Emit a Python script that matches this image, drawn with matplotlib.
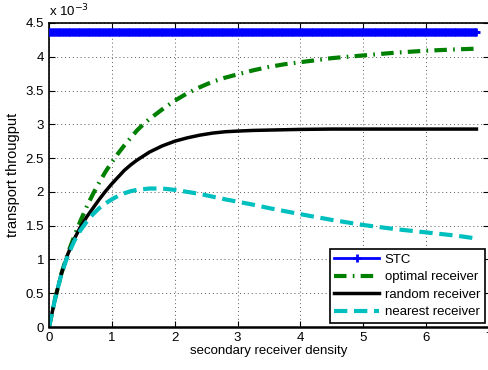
import matplotlib
matplotlib.use("Agg")
import matplotlib.pyplot as plt
import numpy as np

plt.rcParams['font.family'] = ['Liberation Sans', 'DejaVu Sans']

# secondary receiver density
density = [0, 0.1, 0.2, 0.3, 0.4, 0.5, 0.6, 0.7, 0.8, 0.9, 1.0, 1.1, 1.2, 1.3,
           1.4, 1.5, 1.6, 1.8, 2.0, 2.2, 2.4, 2.6, 2.8, 3.0, 3.25, 3.5, 3.75,
           4.0, 4.5, 5.0, 5.5, 6.0, 6.5, 6.8]
# transport throughput (x 1e-3)
optimal = [0, 0.43, 0.80, 1.09, 1.34, 1.57, 1.78, 1.97, 2.14, 2.30, 2.44, 2.57,
           2.69, 2.80, 2.91, 3.00, 3.08, 3.22, 3.35, 3.46, 3.55, 3.63, 3.69,
           3.74, 3.80, 3.85, 3.89, 3.92, 3.98, 4.02, 4.06, 4.09, 4.11, 4.12]
random_rx = [0, 0.43, 0.80, 1.08, 1.30, 1.48, 1.63, 1.76, 1.89, 2.01, 2.12, 2.22,
             2.32, 2.40, 2.47, 2.53, 2.59, 2.68, 2.75, 2.80, 2.84, 2.87, 2.89,
             2.90, 2.91, 2.915, 2.92, 2.925, 2.93, 2.93, 2.93, 2.93, 2.93, 2.93]
nearest = [0, 0.43, 0.79, 1.06, 1.27, 1.43, 1.56, 1.67, 1.76, 1.83, 1.89, 1.94,
           1.98, 2.01, 2.03, 2.04, 2.05, 2.05, 2.03, 2.00, 1.97, 1.93, 1.89,
           1.855, 1.81, 1.76, 1.715, 1.67, 1.585, 1.51, 1.45, 1.40, 1.35, 1.31]
stc_level = 4.37

stc_x = np.linspace(0, 6.8, 300)
stc_y = np.full_like(stc_x, stc_level)

fig = plt.figure(figsize=(4.89, 3.70), dpi=100)
ax = fig.add_axes([49 / 489, 1 - 327 / 370, 440 / 489, 304 / 370])

ax.plot(stc_x, stc_y, color=(0, 0, 1), lw=2, marker='+', ms=5.5, mew=2,
        label='STC', zorder=3)
ax.plot(density, optimal, color=(0, 0.5, 0), lw=3, ls=(0, (3, 1.5, 0.4, 1.5)),
        label='optimal receiver')
ax.plot(density, random_rx, color='black', lw=2.5, label='random receiver')
ax.plot(density, nearest, color=(0, 0.75, 0.75), lw=3, ls=(0, (3.2, 1.6)),
        label='nearest receiver')

ax.set_xlim(0, 7)
ax.set_ylim(0, 4.5)
ax.set_xticks(range(0, 8))
ax.set_yticks(np.arange(0, 4.51, 0.5))
ax.set_yticklabels(['0', '0.5', '1', '1.5', '2', '2.5', '3', '3.5', '4', '4.5'])
ax.tick_params(direction='in', top=True, right=True, labelsize=9.5, length=4)
ax.grid(True, ls=(0, (1, 3)), color='0.35', lw=0.7)
for s in ax.spines.values():
    s.set_linewidth(1.2)
ax.spines['bottom'].set_linewidth(1.8)

ax.set_xlabel('secondary receiver density', fontsize=9.5, labelpad=1)
ax.set_ylabel('transport througput', fontsize=10.5, labelpad=4)
ax.text(0, 1.012, r'x 10$^{-3}$', transform=ax.transAxes, fontsize=9.5,
        ha='left', va='bottom')

leg = ax.legend(loc='lower right', bbox_to_anchor=(0.99, 0.013), fontsize=9.5,
                fancybox=False, framealpha=1, edgecolor='black',
                handlelength=3.4, borderaxespad=0, labelspacing=0.4,
                borderpad=0.35, handletextpad=0.4)
leg.get_frame().set_linewidth(1.2)

fig.savefig('out.png', dpi=100)
